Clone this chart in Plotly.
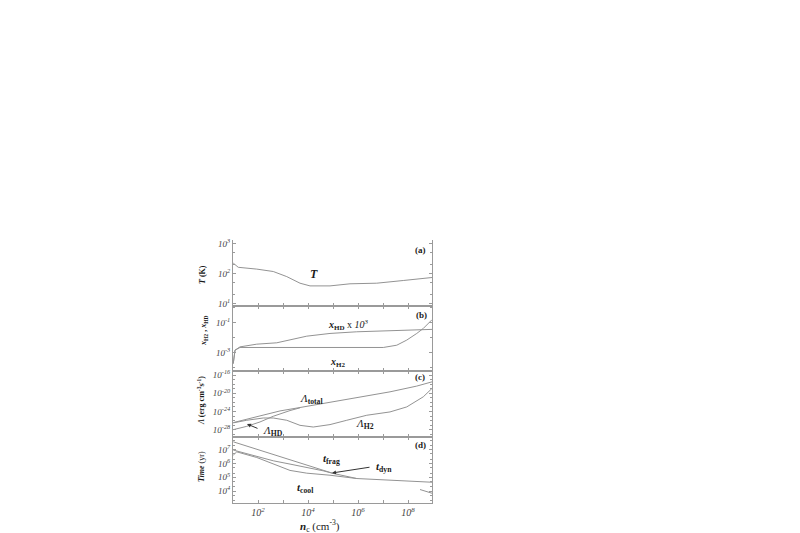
import numpy as np
import plotly.graph_objects as go

# ---------------- data (log10 values) ----------------
# x : log10 of n_c (cm^-3)
T_logn = [1.01, 1.21, 1.95, 2.61, 3.15, 3.68, 4.08, 4.88, 5.68, 6.75, 7.81, 8.96]
T_logT = [2.36, 2.22, 2.16, 2.08, 1.91, 1.69, 1.60, 1.60, 1.67, 1.69, 1.78, 1.88]

xHD_logn = [1.01, 1.08, 1.28, 1.95, 2.75, 3.28, 3.95, 4.88, 5.95, 7.28, 8.96]
xHD_log = [-3.71, -2.82, -2.60, -2.42, -2.33, -2.15, -1.89, -1.71, -1.60, -1.53, -1.44]
xH2_logn = [1.01, 1.08, 1.28, 1.95, 3.28, 4.88, 7.01, 7.55, 7.95, 8.35, 8.61, 8.96]
xH2_log = [-3.71, -2.82, -2.64, -2.64, -2.64, -2.64, -2.64, -2.49, -2.15, -1.71, -1.38, -0.80]

Ltot_logn = [1.01, 1.95, 2.88, 3.68, 4.61, 5.95, 7.28, 8.35, 8.96]
Ltot_log = [-26.44, -25.20, -23.88, -23.13, -22.25, -20.93, -19.69, -18.43, -17.50]
LH2_logn = [1.01, 1.55, 2.21, 2.61, 3.15, 3.68, 4.21, 4.88, 5.55, 6.35, 7.28, 7.95, 8.61, 8.96]
LH2_log = [-26.50, -25.93, -25.43, -25.43, -25.93, -27.04, -27.41, -26.88, -25.93, -24.83,
           -24.10, -23.00, -20.79, -18.94]
LHD_logn = [1.01, 1.55, 2.08, 2.61, 3.28, 3.68]
LHD_log = [-27.99, -27.26, -26.30, -25.05, -23.80, -23.20]

tfrag_logn = [1.01, 3.01, 5.01]
tfrag_log = [7.58, 6.45, 5.28]
tdyn_logn = [1.01, 1.95, 2.61, 3.28, 3.95, 4.61, 5.01, 5.95, 7.28, 8.96]
tdyn_log = [6.98, 6.49, 6.20, 5.96, 5.72, 5.47, 5.28, 4.91, 4.79, 4.64]
tcool_logn = [1.01, 1.15, 1.95, 2.61, 3.28, 3.95, 4.88, 5.95]
tcool_log = [6.61, 6.85, 6.44, 5.95, 5.50, 5.30, 5.15, 4.91]
tcool2_logn = [8.48, 8.96]
tcool2_log = [4.11, 3.84]

x_label_exp = [2, 4, 6, 8]
x_minor_exp = [1, 3, 5, 7]
yA_label_exp = [1, 2, 3]
yB_label_exp = [-3, -1]
yB_minor_exp = [-4, -2, 0]
yC_label_exp = [-28, -24, -20, -16]
yD_label_exp = [4, 5, 6, 7]

# ---------------- styling ----------------
OFF = 8                 # default <body> margin of the written page
W, H = 800 - 2 * OFF, 533 - OFF
FONT = "Liberation Serif"
LINE = "#939393"
AXC = "#9a9a9a"
TXT = "#1a1a1a"
TICKTXT = "#444444"


def P(xp, yp):
    """page pixel (reference coordinates) -> paper fraction"""
    return (xp - OFF) / W, 1 - (yp - OFF) / H


def pw(v):
    return list(10 ** np.array(v, dtype=float))


x0, _ = P(233, 0)
x1, _ = P(432, 0)
xdom = [x0, x1]
panels = [  # (top px, bottom px) in reference pixels
    (240, 306), (306, 371), (371, 437), (437, 503)
]
ydoms = [[P(0, b)[1], P(0, t)[1]] for t, b in panels]

fig = go.Figure()


def add(xl, yl, k):
    fig.add_trace(go.Scatter(
        x=pw(xl), y=pw(yl), mode="lines",
        line=dict(color=LINE, width=1),
        xaxis="x" if k == 1 else f"x{k}", yaxis="y" if k == 1 else f"y{k}",
        showlegend=False, hoverinfo="skip"))


add(T_logn, T_logT, 1)
add(xHD_logn, xHD_log, 2)
add(xH2_logn, xH2_log, 2)
add(Ltot_logn, Ltot_log, 3)
add(LH2_logn, LH2_log, 3)
add(LHD_logn, LHD_log, 3)
add(tfrag_logn, tfrag_log, 4)
add(tdyn_logn, tdyn_log, 4)
add(tcool_logn, tcool_log, 4)
add(tcool2_logn, tcool2_log, 4)


def sup(e):
    return f"<i>10<sup>{e}</sup></i>"


def sub_decades(lo, hi, mults=(2, 5)):
    return [m * 10.0 ** e for e in range(lo, hi) for m in mults]


yspecs = [
    dict(range=[0.93, 3.13], major=yA_label_exp, minor=sub_decades(0, 3)),
    dict(range=[-4.2, 0.11], major=yB_label_exp, minor=pw(yB_minor_exp)),
    dict(range=[-29.6, -15.12], major=yC_label_exp,
         minor=pw([e for e in range(-29, -15) if e not in yC_label_exp])),
    dict(range=[3.13, 7.93], major=yD_label_exp, minor=sub_decades(3, 8)),
]

layout = dict(
    width=W, height=H, margin=dict(l=0, r=0, t=0, b=0, autoexpand=False),
    paper_bgcolor="white", plot_bgcolor="white",
    font=dict(family=FONT, color=TXT, size=10),
    showlegend=False,
)

for i in range(4):
    k = i + 1
    xs = "" if k == 1 else str(k)
    xa = dict(
        type="log", domain=xdom, range=[1, 8.96], anchor="y" + xs,
        showline=True, linecolor=AXC, linewidth=1,
        mirror=False if k == 1 else "ticks",
        ticks="inside", ticklen=3, tickcolor=AXC,
        tickmode="array", tickvals=pw(x_label_exp),
        ticktext=[sup(e) for e in x_label_exp],
        minor=dict(tickmode="array", tickvals=pw(x_minor_exp), ticks="inside",
                   ticklen=3, tickcolor=AXC, showgrid=False),
        showticklabels=(k == 4), tickfont=dict(family=FONT, size=10, color=TICKTXT),
        showgrid=False, zeroline=False, fixedrange=True, automargin=False,
    )
    s = yspecs[i]
    ya = dict(
        type="log", domain=ydoms[i], range=s["range"], anchor="x" + xs,
        showline=True, linecolor=AXC, linewidth=1, mirror="ticks",
        ticks="inside", ticklen=3, tickcolor=AXC,
        tickmode="array", tickvals=pw(s["major"]),
        ticktext=[sup(e) for e in s["major"]],
        minor=dict(tickmode="array", tickvals=s["minor"], ticks="inside",
                   ticklen=2, tickcolor=AXC, showgrid=False),
        tickfont=dict(family=FONT, size=9, color=TICKTXT),
        showgrid=False, zeroline=False, fixedrange=True, automargin=False,
    )
    layout["xaxis" + xs] = xa
    layout["yaxis" + xs] = ya

fig.update_layout(**layout)

ann = []


def label(text, xp, yp, size=10, angle=0):
    x, y = P(xp, yp)
    ann.append(dict(text=text, x=x, y=y, xref="paper", yref="paper",
                    xanchor="center", yanchor="middle", showarrow=False,
                    textangle=angle, font=dict(family=FONT, size=size, color=TXT)))


def arrow(hx, hy, tx, ty):
    x, y = P(hx, hy)
    ann.append(dict(text="", x=x, y=y, xref="paper", yref="paper",
                    ax=tx - hx, ay=ty - hy, axref="pixel", ayref="pixel",
                    showarrow=True, arrowhead=2, arrowsize=0.8, arrowwidth=1,
                    arrowcolor="#333333"))


# panel tags
label("<b>(a)</b>", 420, 250, 9)
label("<b>(b)</b>", 421, 315, 9)
label("<b>(c)</b>", 420, 377, 9)
label("<b>(d)</b>", 420, 445, 9)

# curve labels
label("<b><i>T</i></b>", 314, 274, 12)
label("<b><i>x</i><sub>HD</sub></b> x <i>10<sup>3</sup></i>", 348, 325, 10)
label("<b><i>x</i><sub>H2</sub></b>", 337, 362, 10)
label("<i>Λ</i><sub><b>total</b></sub>", 311, 399, 11)
label("<i>Λ</i><sub><b>H2</b></sub>", 365, 424, 11)
label("<i>Λ</i><sub><b>HD</b></sub>", 273, 431, 11)
arrow(247, 424, 259, 429)
label("<b><i>t</i></b><sub><b>frag</b></sub>", 331, 459, 11)
label("<b><i>t</i></b><sub><b>dyn</b></sub>", 384, 467, 11)
arrow(332, 473, 371, 467)
label("<b><i>t</i></b><sub><b>cool</b></sub>", 305, 488, 11)

# axis titles
label("<b><i>T</i> (K)</b>", 202, 275, 8, -90)
label("<b><i>x</i><sub>H2</sub> , <i>x</i><sub>HD</sub></b>", 204, 331, 8, -90)
label("<i>Λ</i> <b>(erg cm<sup>-3</sup>s<sup>-1</sup>)</b>", 201, 401, 8, -90)
label("<b><i>Time</i></b> (yr)", 201, 467, 8, -90)
label("<b><i>n</i></b><sub>c</sub> (cm<sup>-3</sup>)", 320, 526, 11)

fig.update_layout(annotations=ann)
fig.write_html("out.html")
